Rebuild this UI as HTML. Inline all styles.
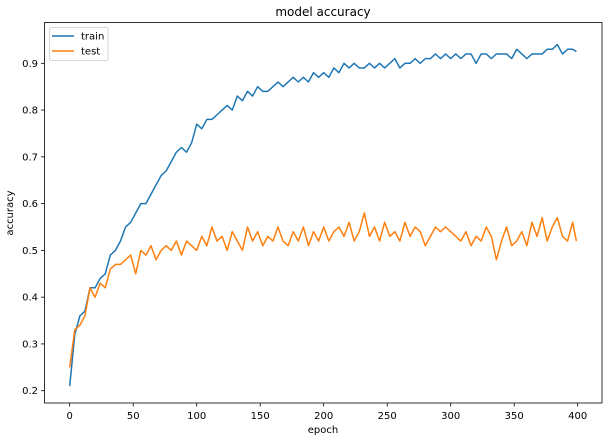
<!DOCTYPE html>
<html><head><meta charset="utf-8"><style>
html,body{margin:0;padding:0;background:#fff;}
svg text{font-family:"DejaVu Sans","Liberation Sans",sans-serif;fill:#000;}
</style></head><body>
<svg id="chart" width="609" height="441" viewBox="0 0 609 441" xmlns="http://www.w3.org/2000/svg">
<text x="323" y="16" font-size="12" text-anchor="middle">model accuracy</text>
<g id="ticks"></g>
<g id="series"></g>
<rect x="44.5" y="22.5" width="557.5" height="380.5" fill="none" stroke="#000" stroke-width="0.8"/>
<text x="323" y="433" font-size="10" text-anchor="middle">epoch</text>
<text x="13" y="213" font-size="10" text-anchor="middle" transform="rotate(-90 13 213)">accuracy</text>
<g>
<rect x="49.5" y="27.5" width="58.5" height="33" rx="2" fill="#fff" fill-opacity="0.8" stroke="#ccc" stroke-width="0.8"/>
<line x1="52" y1="36" x2="74" y2="36" stroke="#1f77b4" stroke-width="1.5"/>
<text x="81" y="39.5" font-size="10">train</text>
<line x1="52" y1="51" x2="74" y2="51" stroke="#ff7f0e" stroke-width="1.5"/>
<text x="81" y="54.5" font-size="10">test</text>
</g>
</svg>
<script>
const epochs = [0,4,8,12,16,20,24,28,32,36,40,44,48,52,56,60,64,68,72,76,80,84,88,92,96,100,104,108,112,116,120,124,128,132,136,140,144,148,152,156,160,164,168,172,176,180,184,188,192,196,200,204,208,212,216,220,224,228,232,236,240,244,248,252,256,260,264,268,272,276,280,284,288,292,296,300,304,308,312,316,320,324,328,332,336,340,344,348,352,356,360,364,368,372,376,380,384,388,392,396,399];
const trainAcc = [.21,.32,.36,.37,.42,.42,.44,.45,.49,.50,.52,.55,.56,.58,.60,.60,.62,.64,.66,.67,.69,.71,.72,.71,.73,.77,.76,.78,.78,.79,.80,.81,.80,.83,.82,.84,.83,.85,.84,.84,.85,.86,.85,.86,.87,.86,.87,.86,.88,.87,.88,.87,.89,.88,.90,.89,.90,.89,.89,.90,.89,.90,.89,.90,.91,.89,.90,.90,.91,.90,.91,.91,.92,.91,.92,.91,.92,.91,.92,.92,.90,.92,.92,.91,.92,.92,.92,.91,.93,.92,.91,.92,.92,.92,.93,.93,.94,.92,.93,.93,.925];
const testAcc = [.25,.33,.34,.36,.42,.40,.43,.42,.46,.47,.47,.48,.49,.45,.50,.49,.51,.48,.50,.51,.50,.52,.49,.52,.51,.50,.53,.51,.55,.52,.53,.50,.54,.52,.50,.55,.52,.54,.51,.53,.52,.55,.52,.51,.54,.52,.55,.51,.54,.52,.55,.52,.54,.55,.53,.56,.52,.54,.58,.53,.55,.52,.56,.53,.54,.52,.56,.53,.55,.54,.51,.53,.55,.54,.55,.54,.53,.52,.54,.51,.53,.52,.55,.53,.48,.52,.55,.51,.52,.54,.51,.56,.53,.57,.52,.55,.57,.53,.52,.56,.52];
const xTicks = [0,50,100,150,200,250,300,350,400];
const yTicks = [0.2,0.3,0.4,0.5,0.6,0.7,0.8,0.9];

const NS = 'http://www.w3.org/2000/svg';
function xScale(v){ return 69.7 + v * (577.7 - 69.7) / 400; }
function yScale(v){ return 390.7 - (v - 0.2) * (390.7 - 63.3) / 0.7; }
const tg = document.getElementById('ticks');
xTicks.forEach(t => {
  const x = xScale(t);
  const l = document.createElementNS(NS,'line');
  
  
  l.setAttribute('x1',x); l.setAttribute('x2',x); l.setAttribute('y1',403); l.setAttribute('y2',406.5);
  l.setAttribute('stroke','#000'); l.setAttribute('stroke-width','0.8');
  tg.appendChild(l);
  const tx = document.createElementNS(NS,'text');
  
  
  tx.setAttribute('x',x); tx.setAttribute('y',419); tx.setAttribute('font-size','10'); tx.setAttribute('text-anchor','middle');
  tx.textContent = t;
  tg.appendChild(tx);
});
yTicks.forEach(t => {
  const y = yScale(t);
  const l = document.createElementNS(NS,'line');
  
  
  l.setAttribute('x1',41); l.setAttribute('x2',44.5); l.setAttribute('y1',y); l.setAttribute('y2',y);
  l.setAttribute('stroke','#000'); l.setAttribute('stroke-width','0.8');
  tg.appendChild(l);
  const tx = document.createElementNS(NS,'text');
  
  
  tx.setAttribute('x',38); tx.setAttribute('y',y+3.5); tx.setAttribute('font-size','10'); tx.setAttribute('text-anchor','end');
  tx.textContent = t.toFixed(1);
  tg.appendChild(tx);
});
const sg = document.getElementById('series');
function drawLine(vals, color, name){
  const p = document.createElementNS(NS,'polyline');
  
  
  p.setAttribute('points', vals.map((v,i)=>xScale(epochs[i]).toFixed(2)+','+yScale(v).toFixed(2)).join(' '));
  p.setAttribute('fill','none'); p.setAttribute('stroke',color); p.setAttribute('stroke-width','1.5');
  p.setAttribute('stroke-linejoin','round');
  sg.appendChild(p);
}
drawLine(trainAcc,'#1f77b4','train-line');
drawLine(testAcc,'#ff7f0e','test-line');
</script>
</body></html>
